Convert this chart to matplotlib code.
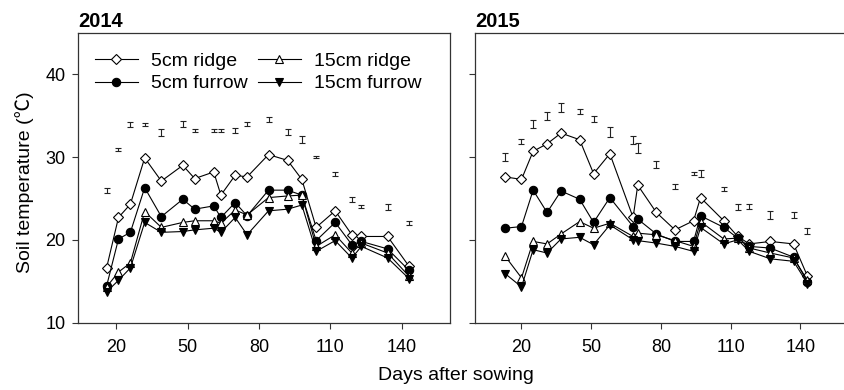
import matplotlib
matplotlib.use("Agg")
import matplotlib.pyplot as plt

plt.rcParams['font.family'] = ['Liberation Sans', 'DejaVu Sans']

# ---------------- 2014 ----------------
days_2014 = [16, 21, 26, 32, 39, 48, 53, 61, 64, 70, 75, 84, 92, 98, 104, 112, 119, 123, 134, 143]
ridge5_2014 = [16.6, 22.7, 24.3, 29.9, 27.1, 29.0, 27.4, 28.2, 25.4, 27.8, 27.6, 30.3, 29.6, 27.3, 21.5, 23.5, 20.6, 20.4, 20.4, 16.8]
furrow5_2014 = [14.4, 20.1, 20.9, 26.3, 22.8, 24.9, 23.7, 24.1, 22.7, 24.5, 22.9, 26.0, 26.0, 25.4, 19.9, 22.1, 19.4, 19.8, 18.9, 16.3]
ridge15_2014 = [14.3, 16.1, 17.2, 23.4, 21.5, 22.1, 22.3, 22.3, 22.0, 23.6, 23.0, 25.1, 25.3, 25.4, 19.2, 20.6, 18.4, 19.6, 18.4, 15.6]
furrow15_2014 = [13.7, 15.1, 16.6, 22.1, 20.9, 21.0, 21.2, 21.4, 20.9, 22.7, 20.6, 23.5, 23.7, 24.2, 18.6, 19.9, 17.8, 19.2, 17.8, 15.3]
lsd_pos_2014 = [26.0, 30.9, 33.9, 33.9, 33.0, 34.0, 33.2, 33.2, 33.2, 33.2, 34.0, 34.6, 33.0, 32.1, 30.0, 28.0, 24.9, 24.0, 24.0, 22.0]
lsd_err_2014 = [0.3, 0.2, 0.3, 0.2, 0.4, 0.4, 0.15, 0.2, 0.2, 0.3, 0.3, 0.3, 0.35, 0.4, 0.15, 0.25, 0.3, 0.2, 0.35, 0.25]

# ---------------- 2015 ----------------
days_2015 = [13, 20, 25, 31, 37, 45, 51, 58, 68, 70, 78, 86, 94, 97, 107, 113, 118, 127, 137, 143]
ridge5_2015 = [27.6, 27.3, 30.7, 31.6, 32.9, 32.1, 28.0, 30.4, 22.7, 26.6, 23.3, 21.2, 22.3, 25.1, 22.3, 20.4, 19.5, 19.8, 19.5, 15.6]
furrow5_2015 = [21.4, 21.6, 26.0, 23.3, 25.9, 24.9, 22.1, 25.1, 21.6, 22.5, 20.7, 19.8, 19.8, 22.9, 21.5, 20.2, 19.2, 19.0, 17.9, 14.9]
ridge15_2015 = [18.0, 15.4, 19.8, 19.5, 20.7, 22.2, 21.4, 22.0, 20.4, 20.8, 20.6, 19.9, 19.2, 22.2, 20.1, 20.2, 19.0, 18.4, 17.8, 15.1]
furrow15_2015 = [15.9, 14.3, 18.8, 18.4, 20.1, 20.3, 19.4, 21.8, 20.0, 19.9, 19.6, 19.2, 18.6, 21.5, 19.5, 20.0, 18.6, 17.7, 17.4, 14.7]
lsd_pos_2015 = [30.0, 31.9, 34.0, 35.0, 36.0, 35.5, 34.6, 33.0, 32.1, 31.1, 29.1, 26.5, 28.0, 28.0, 26.1, 24.0, 24.0, 23.0, 23.0, 21.1]
lsd_err_2015 = [0.45, 0.3, 0.5, 0.5, 0.5, 0.3, 0.4, 0.6, 0.5, 0.6, 0.45, 0.3, 0.2, 0.4, 0.25, 0.35, 0.3, 0.5, 0.4, 0.35]

series_labels = ['5cm ridge', '5cm furrow', '15cm ridge', '15cm furrow']
x_ticks = [20, 50, 80, 110, 140]
y_ticks = [10, 20, 30, 40]

W, H = 845, 390
fig = plt.figure(figsize=(W / 100, H / 100), dpi=100)

ax1 = fig.add_axes([78 / W, (H - 322.5) / H, (449.5 - 78) / W, (322.5 - 33) / H])
ax2 = fig.add_axes([475 / W, (H - 322.5) / H, 372 / W, (322.5 - 33) / H])

styles = [
    dict(marker='D', markersize=5.3, markerfacecolor='white'),
    dict(marker='o', markersize=6.0, markerfacecolor='black'),
    dict(marker='^', markersize=6.2, markerfacecolor='white'),
    dict(marker='v', markersize=6.2, markerfacecolor='black'),
]

def draw(ax, days, data, lpos, lerr, xlim):
    for vals, st, lab in zip(data, styles, series_labels):
        ax.plot(days, vals, color='black', linewidth=0.8, markeredgecolor='black',
                markeredgewidth=0.8, label=lab, **st)
    ax.errorbar(days, lpos, yerr=lerr, fmt='none', ecolor='#222222',
                elinewidth=0.8, capsize=2.0, capthick=0.8)
    ax.set_xlim(*xlim)
    ax.set_ylim(10, 45)
    ax.set_xticks(x_ticks)
    ax.set_yticks(y_ticks)
    ax.tick_params(direction='out', length=4, width=0.8, labelsize=13, color='#333333')
    ax.tick_params(axis='x', pad=8)
    ax.tick_params(axis='y', pad=5)
    for s in ax.spines.values():
        s.set_linewidth(0.9)
        s.set_color('#333333')

draw(ax1, days_2014, [ridge5_2014, furrow5_2014, ridge15_2014, furrow15_2014],
     lsd_pos_2014, lsd_err_2014, (4, 160))
draw(ax2, days_2015, [ridge5_2015, furrow5_2015, ridge15_2015, furrow15_2015],
     lsd_pos_2015, lsd_err_2015, (0, 160))
ax2.tick_params(labelleft=False)
ax2.spines['right'].set_visible(False)

ax1.set_title('2014', loc='left', fontsize=14.5, fontweight='bold', pad=4)
ax2.set_title('2015', loc='left', fontsize=14.5, fontweight='bold', pad=4)

ax1.set_ylabel('Soil temperature (\u2103)', fontsize=14,
               family=['Liberation Sans', 'Noto Sans CJK SC', 'DejaVu Sans'])
ax1.yaxis.set_label_coords(-0.118, 0.485)

leg = ax1.legend(ncol=2, loc='upper left', frameon=False, fontsize=14,
                 handlelength=2.2, columnspacing=0.5, handletextpad=0.7,
                 labelspacing=0.25, borderaxespad=0, borderpad=0,
                 bbox_to_anchor=(0.046, 0.933))

fig.text(456 / W, 1 - 376 / H, 'Days after sowing', ha='center', va='center', fontsize=14)

fig.savefig('out.png', dpi=100)
